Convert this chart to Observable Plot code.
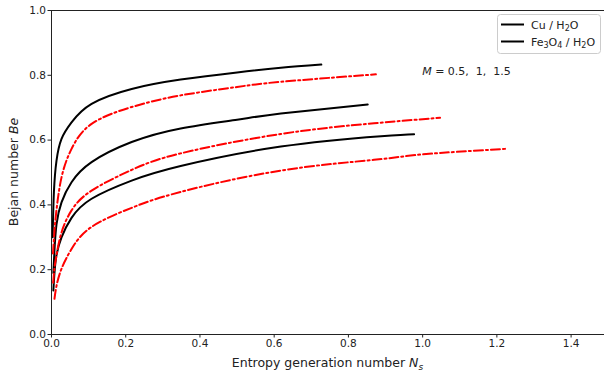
<!DOCTYPE html>
<html>
<head>
<meta charset="utf-8">
<script src="https://cdn.jsdelivr.net/npm/d3@7"></script>
<script src="https://cdn.jsdelivr.net/npm/@observablehq/plot@0.6"></script>
<style>
  html, body { margin: 0; padding: 0; background: #fff; }
  #chart { width: 604px; height: 377px; }
</style>
</head>
<body>
<div id="chart"></div>
<script>
// Entropy generation number Ns (x) vs Bejan number Be (y)
const cuM05 = [[0.003,0.30],[0.0065,0.44],[0.0135,0.537],[0.027,0.604],[0.054,0.655],[0.108,0.712],[0.216,0.758],[0.348,0.787],[0.5,0.809],[0.618,0.823],[0.727,0.833]];
const feM05 = [[0.004,0.25],[0.008,0.32],[0.0135,0.385],[0.027,0.485],[0.054,0.573],[0.108,0.650],[0.216,0.702],[0.348,0.738],[0.5,0.764],[0.618,0.780],[0.874,0.803]];
const cuM1  = [[0.005,0.19],[0.008,0.26],[0.0135,0.34],[0.027,0.408],[0.054,0.47],[0.108,0.532],[0.216,0.594],[0.348,0.636],[0.5,0.663],[0.618,0.682],[0.852,0.710]];
const feM1  = [[0.0045,0.16],[0.008,0.205],[0.0135,0.245],[0.027,0.315],[0.054,0.383],[0.108,0.444],[0.216,0.508],[0.348,0.559],[0.618,0.619],[0.869,0.652],[1.047,0.669]];
const cuM15 = [[0.005,0.136],[0.008,0.19],[0.0135,0.245],[0.027,0.30],[0.054,0.36],[0.108,0.419],[0.216,0.475],[0.348,0.52],[0.618,0.58],[0.888,0.612],[0.977,0.618]];
const feM15 = [[0.008,0.11],[0.0135,0.15],[0.027,0.203],[0.054,0.264],[0.108,0.332],[0.216,0.391],[0.348,0.44],[0.618,0.506],[0.869,0.539],[1.0,0.556],[1.223,0.573]];

const xTicks = [0, 0.2, 0.4, 0.6, 0.8, 1.0, 1.2, 1.4];
const yTicks = [0, 0.2, 0.4, 0.6, 0.8, 1.0];
const annotation = {x: 1.0, y: 0.80, label: "M", text: " = 0.5,  1,  1.5"};

const series = [
  {fluid: "Cu", M: 0.5, pts: cuM05},
  {fluid: "Cu", M: 1, pts: cuM1},
  {fluid: "Cu", M: 1.5, pts: cuM15},
  {fluid: "Fe", M: 0.5, pts: feM05},
  {fluid: "Fe", M: 1, pts: feM1},
  {fluid: "Fe", M: 1.5, pts: feM15}
];
const data = series.flatMap(s => s.pts.map(([x, y]) => ({x, y, fluid: s.fluid, M: s.M})));

const fmt = d3.format(".1f");
const svg = Plot.plot({
  width: 604,
  height: 377,
  marginLeft: 51,
  marginTop: 10,
  marginBottom: 43,
  marginRight: 0,
  style: {fontFamily: "DejaVu Sans", fontSize: "10.5px", color: "#222", background: "#fff"},
  x: {domain: [0, 1.49]},
  y: {domain: [0, 1]},
  marks: [
    Plot.ruleY([1], {stroke: "#222", strokeWidth: 1}),
    Plot.line(data.filter(d => d.fluid === "Cu"), {x: "x", y: "y", z: "M", stroke: "black", strokeWidth: 2, curve: "natural"}),
    Plot.line(data.filter(d => d.fluid === "Fe"), {x: "x", y: "y", z: "M", stroke: "#ff0000", strokeWidth: 2, strokeDasharray: "9,3,2,3", curve: "natural"}),
    Plot.ruleY([0], {stroke: "#222", strokeWidth: 1}),
    Plot.ruleX([0], {stroke: "#222", strokeWidth: 1}),
    Plot.axisX({ticks: xTicks, tickFormat: fmt, tickSize: 3.5, tickPadding: 2, label: null, fontSize: 10.5}),
    Plot.axisY({ticks: yTicks, tickFormat: fmt, tickSize: 3.5, tickPadding: 2, label: null, fontSize: 10.5})
  ]
});
document.getElementById("chart").appendChild(svg);

const root = d3.select(svg);
const sx = svg.scale("x"), sy = svg.scale("y");
const ff = "DejaVu Sans";

// Y axis label
const yl = root.append("text")
  .attr("transform", `translate(14,${(sy.apply(0) + sy.apply(1)) / 2}) rotate(-90)`)
  .attr("text-anchor", "middle").attr("dominant-baseline", "middle")
  .attr("font-family", ff).attr("font-size", 12.5).attr("fill", "#222");
yl.append("tspan").text("Bejan number ");
yl.append("tspan").attr("font-style", "italic").text("Be");

// X axis label
const xl = root.append("text")
  .attr("x", (sx.apply(0) + 604) / 2).attr("y", 367)
  .attr("text-anchor", "middle")
  .attr("font-family", ff).attr("font-size", 12.5).attr("fill", "#222");
xl.append("tspan").text("Entropy generation number ");
xl.append("tspan").attr("font-style", "italic").text("N");
xl.append("tspan").attr("font-style", "italic").attr("font-size", 9).attr("dy", 3).text("s");

// Annotation
const an = root.append("text")
  .attr("x", sx.apply(annotation.x)).attr("y", sy.apply(annotation.y))
  .attr("text-anchor", "start")
  .attr("font-family", ff).attr("font-size", 11).attr("fill", "#222");
an.append("tspan").attr("font-style", "italic").text(annotation.label);
an.append("tspan").text(annotation.text);

// Legend
const lg = root.append("g");
lg.append("rect").attr("x", 497.5).attr("y", 14.5).attr("width", 103).attr("height", 39)
  .attr("rx", 3).attr("fill", "white").attr("fill-opacity", 0.85).attr("stroke", "#ccc");
const entries = [
  {y: 24.5, parts: [["Cu / H", 0], ["2", 1], ["O", 0]]},
  {y: 41.5, parts: [["Fe", 0], ["3", 1], ["O", 0], ["4", 1], [" / H", 0], ["2", 1], ["O", 0]]}
];
entries.forEach(e => {
  lg.append("line").attr("x1", 501).attr("x2", 524).attr("y1", e.y).attr("y2", e.y)
    .attr("stroke", "black").attr("stroke-width", 2);
  const t = lg.append("text").attr("x", 531).attr("y", e.y + 4)
    .attr("text-anchor", "start")
    .attr("font-family", ff).attr("font-size", 11).attr("fill", "#222");
  let prevSub = 0;
  e.parts.forEach(([s, sub]) => {
    const ts = t.append("tspan").text(s);
    if (sub && !prevSub) ts.attr("dy", 2.5).attr("font-size", 8);
    else if (sub) ts.attr("font-size", 8);
    else if (!sub && prevSub) ts.attr("dy", -2.5);
    prevSub = sub;
  });
});
</script>
</body>
</html>
